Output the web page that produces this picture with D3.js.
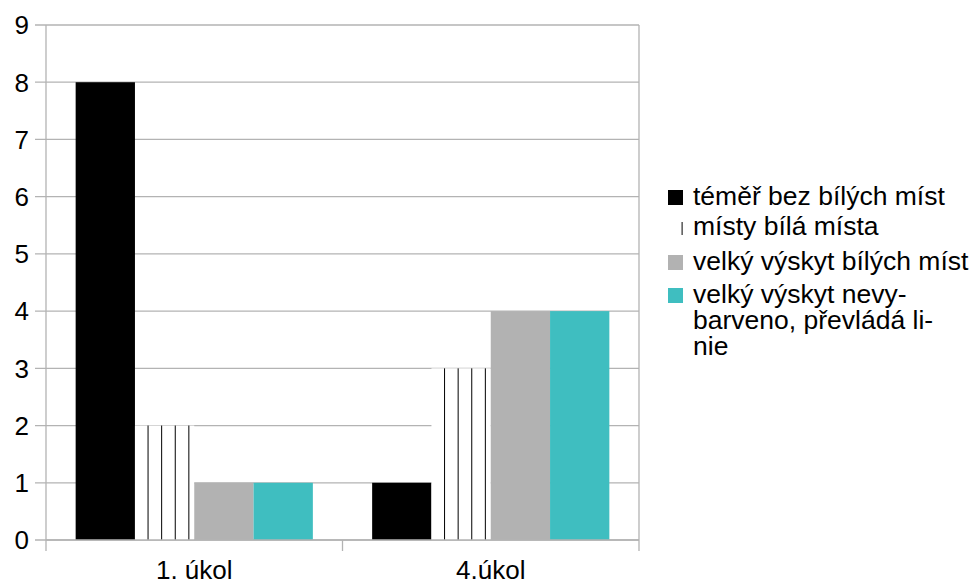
<!DOCTYPE html>
<html>
<head>
<meta charset="utf-8">
<script src="https://cdn.jsdelivr.net/npm/d3@7/dist/d3.min.js"></script>
<style>
html,body{margin:0;padding:0;background:#fff;}
svg{display:block;font-family:"Liberation Sans",Arial,sans-serif;}
</style>
</head>
<body>
<svg id="chart" width="980" height="583"></svg>
<script>
const categories = ["1. úkol", "4.úkol"];
const seriesNames = ["téměř bez bílých míst", "místy bílá místa", "velký výskyt bílých míst", "velký výskyt nevy-|barveno, převládá li-|nie"];
const series1 = [8, 1];
const series2 = [2, 3];
const series3 = [1, 4];
const series4 = [1, 4];
const yTicks = [0,1,2,3,4,5,6,7,8,9];

const seriesValues = [series1, series2, series3, series4];
const colors = ["#000000", "hatch", "#b2b2b2", "#3fbec0"];

(function(){
const svg = d3.select("#chart");
const pLeft = 46, pRight = 639, pTop = 25, pBottom = 540;
const gridColor = "#b3b3b3";
const fs = 26;
const legFs = 26.5;

const y = d3.scaleLinear().domain([0, 9]).range([pBottom, pTop]);
const x0 = d3.scaleBand().domain(categories).range([pLeft, pRight]).paddingInner(0).paddingOuter(0);
const x1 = d3.scaleBand().domain(d3.range(seriesValues.length)).range([0, x0.bandwidth()]).paddingInner(0).paddingOuter(0.5);

const hatchStep = 13.6;

// gridlines
svg.append("g").selectAll("line").data(yTicks).join("line")
  .attr("x1", pLeft - 11).attr("x2", pRight)
  .attr("y1", d => y(d)).attr("y2", d => y(d))
  .attr("stroke", gridColor).attr("stroke-width", 1.3);

// bars
categories.forEach((cat, ci) => {
  seriesValues.forEach((vals, si) => {
    const bx = x0(cat) + x1(si);
    const bw = x1.bandwidth();
    const by = y(vals[ci]);
    const bh = y(0) - y(vals[ci]);
    if (colors[si] === "hatch") {
      svg.append("rect").attr("x", bx).attr("y", by).attr("width", bw).attr("height", bh)
        .attr("fill", "#fff");
      const n = Math.floor(bw / hatchStep);
      svg.append("g").selectAll("line").data(d3.range(1, n + 1)).join("line")
        .attr("x1", k => bx + k * hatchStep - 0.5).attr("x2", k => bx + k * hatchStep - 0.5)
        .attr("y1", by).attr("y2", by + bh)
        .attr("stroke", "#000").attr("stroke-width", 1);
    } else {
      svg.append("rect").attr("x", bx).attr("y", by).attr("width", bw).attr("height", bh)
        .attr("fill", colors[si]);
    }
  });
});

// axis lines
svg.append("line").attr("x1", pLeft).attr("x2", pLeft).attr("y1", pTop).attr("y2", pBottom)
  .attr("stroke", gridColor).attr("stroke-width", 1.3);
svg.append("line").attr("x1", pRight).attr("x2", pRight).attr("y1", pTop).attr("y2", pBottom)
  .attr("stroke", gridColor).attr("stroke-width", 1.3);
svg.append("line").attr("x1", pLeft).attr("x2", pRight).attr("y1", pBottom).attr("y2", pBottom)
  .attr("stroke", gridColor).attr("stroke-width", 1.3);
const xTickPos = categories.map(c => x0(c)).concat([pRight]);
svg.append("g").selectAll("line").data(xTickPos).join("line")
  .attr("x1", d => d).attr("x2", d => d).attr("y1", pBottom).attr("y2", pBottom + 11)
  .attr("stroke", gridColor).attr("stroke-width", 1.3);

// y labels
svg.append("g").selectAll("text").data(yTicks).join("text")
  .attr("x", 29).attr("y", d => y(d) + 9.3)
  .attr("text-anchor", "end").attr("font-size", fs).attr("fill", "#000")
  .text(d => d);

// x labels
svg.append("g").selectAll("text").data(categories).join("text")
  .attr("x", d => x0(d) + x0.bandwidth() / 2).attr("y", 579)
  .attr("text-anchor", "middle").attr("font-size", fs).attr("fill", "#000")
  .text(d => d);

// legend
const legBase = [205, 235, 270, 303];
const lineH = 26;
seriesNames.forEach((name, i) => {
  const by = legBase[i];
  const mx = 668, ms = 15;
  if (colors[i] === "hatch") {
    svg.append("line").attr("x1", mx + hatchStep + 0.5).attr("x2", mx + hatchStep + 0.5)
      .attr("y1", by - 13).attr("y2", by).attr("stroke", "#000").attr("stroke-width", 1);
  } else {
    svg.append("rect").attr("x", mx).attr("y", by - 15).attr("width", ms).attr("height", ms).attr("fill", colors[i]);
  }
  const t = svg.append("text").attr("x", 693).attr("y", by).attr("font-size", legFs).attr("fill", "#000");
  name.split("|").forEach((ln, k) => {
    t.append("tspan").attr("x", 693).attr("y", by + k * lineH).text(ln);
  });
});
})();
</script>
</body>
</html>
